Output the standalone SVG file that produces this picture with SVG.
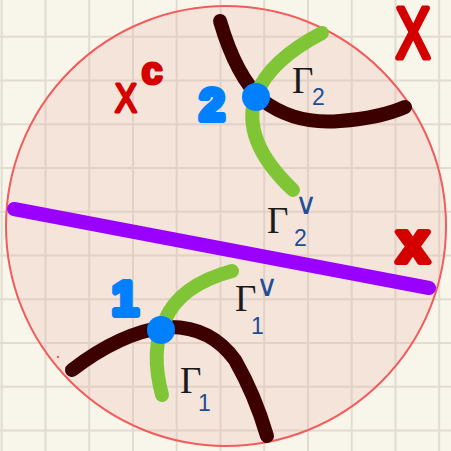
<svg xmlns="http://www.w3.org/2000/svg" width="451" height="451" viewBox="0 0 451 451">
<style>
.grid{stroke:#e2dcd0;stroke-width:2}
.curve{fill:none;stroke-linecap:round;stroke-width:14}
.brown{stroke:#3d0000}
.green{stroke:#80c535}
.dot{fill:#0080ff}
.gamma{font-family:"Liberation Serif",serif;font-size:37px;fill:#1a1a1a}
.sub{font-family:"Liberation Sans",sans-serif;font-size:23px;fill:#1d4f98}
.vee{font-family:"DejaVu Sans",sans-serif;font-size:30px;fill:#1d4f98}
.num{font-family:"Liberation Sans",sans-serif;font-weight:bold;fill:#0080ff;stroke:#0080ff;stroke-width:6;stroke-linejoin:round;stroke-linecap:round}
.red{font-family:"Liberation Sans",sans-serif;fill:#d40000;stroke:#d40000;stroke-linejoin:round;stroke-linecap:round}
</style>
<rect width="451" height="451" fill="#f8f5ea"/>
<g id="grid" class="grid">
<line x1="1.7" y1="0" x2="1.7" y2="451"/><line x1="45.5" y1="0" x2="45.5" y2="451"/><line x1="89.2" y1="0" x2="89.2" y2="451"/><line x1="133" y1="0" x2="133" y2="451"/><line x1="176.7" y1="0" x2="176.7" y2="451"/><line x1="220.5" y1="0" x2="220.5" y2="451"/><line x1="264.2" y1="0" x2="264.2" y2="451"/><line x1="308" y1="0" x2="308" y2="451"/><line x1="351.7" y1="0" x2="351.7" y2="451"/><line x1="395.5" y1="0" x2="395.5" y2="451"/><line x1="439.2" y1="0" x2="439.2" y2="451"/>
<line x1="0" y1="36.7" x2="451" y2="36.7"/><line x1="0" y1="80.4" x2="451" y2="80.4"/><line x1="0" y1="124.2" x2="451" y2="124.2"/><line x1="0" y1="167.9" x2="451" y2="167.9"/><line x1="0" y1="211.7" x2="451" y2="211.7"/><line x1="0" y1="255.4" x2="451" y2="255.4"/><line x1="0" y1="299.2" x2="451" y2="299.2"/><line x1="0" y1="342.9" x2="451" y2="342.9"/><line x1="0" y1="386.7" x2="451" y2="386.7"/><line x1="0" y1="430.4" x2="451" y2="430.4"/>
</g>
<g id="disk">
<circle cx="226" cy="226" r="220" fill="#e9aaa4" fill-opacity="0.22" stroke="#f25c5c" stroke-width="2"/>
<circle cx="58" cy="357" r="1.2" fill="#f25c5c"/>
</g>
<g id="wall">
<line x1="14" y1="209" x2="429" y2="288" stroke="#9900ff" stroke-width="14" stroke-linecap="round"/>
</g>
<g id="connectors">
<path class="curve brown" d="M220 21 Q236 76 262 100 Q295 125 340 121 Q380 118 405 107"/>
<path class="curve green" d="M322 33 Q270 60 256 95 Q240 140 293 190"/>
<path class="curve brown" d="M72 370 Q120 333 165 327 Q210 325 235 360 Q255 395 267 436"/>
<path class="curve green" d="M232 271 Q180 285 165 320 Q150 350 162 395"/>
</g>
<g id="node-2">
<circle class="dot" cx="256" cy="97" r="14"/>
<text class="num" x="212" y="120" font-size="45" text-anchor="middle">2</text>
</g>
<g id="node-1">
<circle class="dot" cx="161" cy="330" r="14"/>
<text class="num" x="125" y="315" font-size="48" text-anchor="middle">1</text>
</g>
<g id="label-gamma2">
<text class="gamma" x="292" y="93">Γ</text>
<text class="sub" x="312" y="105">2</text>
</g>
<g id="label-gamma2-dual">
<text class="gamma" x="267" y="233">Γ</text>
<text class="vee" x="295" y="214">∨</text>
<text class="sub" x="294" y="246">2</text>
</g>
<g id="label-gamma1-dual">
<text class="gamma" x="235" y="311">Γ</text>
<text class="vee" x="256" y="296">∨</text>
<text class="sub" x="251" y="334" font-size="27">1</text>
</g>
<g id="label-gamma1">
<text class="gamma" x="180" y="393">Γ</text>
<text class="sub" x="198" y="411" font-size="27">1</text>
</g>
<g id="label-Xc">
<text class="red" x="126" y="112" font-size="40" stroke-width="3" text-anchor="middle" transform="translate(126 0) scale(0.82 1) translate(-126 0)">X</text>
<text class="red" x="152" y="84" font-size="38" font-weight="bold" stroke-width="3" text-anchor="middle">c</text>
</g>
<g id="label-X">
<text class="red" x="413" y="58" font-size="72" stroke-width="5" text-anchor="middle" transform="translate(413 0) scale(0.72 1) translate(-413 0)">X</text>
</g>
<g id="label-x">
<text class="red" x="413" y="262" font-size="58" font-weight="bold" stroke-width="6" text-anchor="middle">x</text>
</g>
</svg>
